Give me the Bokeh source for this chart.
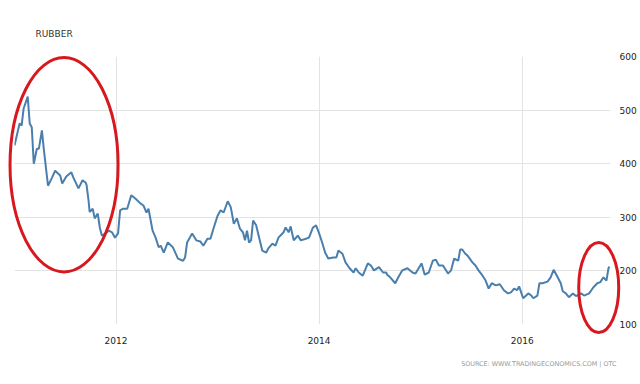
from bokeh.plotting import figure
from bokeh.layouts import column
from bokeh.models import FixedTicker, Label
from bokeh.embed import file_html
from bokeh.resources import INLINE

# decimal years
years = [2011.00, 2011.05, 2011.07, 2011.09, 2011.13, 2011.15, 2011.17, 2011.19, 2011.22, 2011.24,
         2011.27, 2011.29, 2011.33, 2011.37, 2011.40, 2011.45, 2011.47, 2011.51, 2011.56, 2011.58,
         2011.63, 2011.67, 2011.70, 2011.71, 2011.73, 2011.74, 2011.77, 2011.79, 2011.82, 2011.84,
         2011.86, 2011.88, 2011.93, 2011.96, 2011.99, 2012.02, 2012.04, 2012.07, 2012.11, 2012.15,
         2012.19, 2012.24, 2012.27, 2012.30, 2012.32, 2012.36, 2012.39, 2012.42, 2012.44, 2012.47,
         2012.51, 2012.56, 2012.61, 2012.66, 2012.68, 2012.70, 2012.75, 2012.79, 2012.83, 2012.86,
         2012.90, 2012.93, 2012.96, 2013.00, 2013.03, 2013.06, 2013.10, 2013.13, 2013.16, 2013.19,
         2013.22, 2013.25, 2013.27, 2013.29, 2013.31, 2013.33, 2013.35, 2013.38, 2013.44, 2013.48,
         2013.50, 2013.54, 2013.57, 2013.60, 2013.65, 2013.67, 2013.70, 2013.72, 2013.75, 2013.79,
         2013.82, 2013.87, 2013.90, 2013.94, 2013.97, 2013.99, 2014.00, 2014.03, 2014.06, 2014.09,
         2014.14, 2014.17, 2014.19, 2014.23, 2014.26, 2014.30, 2014.34, 2014.36, 2014.39, 2014.43,
         2014.48, 2014.51, 2014.54, 2014.59, 2014.63, 2014.66, 2014.67, 2014.70, 2014.75, 2014.78,
         2014.82, 2014.87, 2014.92, 2014.95, 2014.98, 2015.01, 2015.04, 2015.08, 2015.12, 2015.15,
         2015.18, 2015.22, 2015.27, 2015.30, 2015.33, 2015.37, 2015.39, 2015.41, 2015.44, 2015.46,
         2015.51, 2015.54, 2015.57, 2015.61, 2015.64, 2015.67, 2015.70, 2015.74, 2015.78, 2015.82,
         2015.86, 2015.89, 2015.92, 2015.95, 2015.97, 2015.99, 2016.01, 2016.06, 2016.09, 2016.11,
         2016.15, 2016.17, 2016.20, 2016.25, 2016.28, 2016.31, 2016.35, 2016.38, 2016.40, 2016.43,
         2016.46, 2016.50, 2016.53, 2016.58, 2016.61, 2016.66, 2016.70, 2016.74, 2016.77, 2016.80,
         2016.83, 2016.85, 2016.86]

prices = [434, 475, 471, 503, 525, 475, 468, 400, 428, 428,
          462, 425, 359, 374, 387, 378, 363, 376, 384, 374,
          354, 369, 365, 360, 330, 310, 316, 298, 307, 281,
          266, 268, 275, 272, 262, 270, 313, 316, 316, 341,
          335, 326, 322, 309, 316, 275, 262, 244, 247, 234,
          253, 244, 223, 219, 225, 253, 270, 257, 255, 247,
          260, 260, 279, 303, 313, 309, 330, 319, 288, 298,
          279, 272, 257, 275, 253, 257, 294, 285, 238, 234,
          242, 251, 247, 262, 272, 281, 272, 283, 257, 266,
          257, 260, 262, 281, 285, 275, 270, 253, 234, 223,
          225, 225, 238, 232, 216, 205, 197, 205, 197, 191,
          214, 210, 201, 207, 197, 197, 193, 188, 177, 188,
          201, 205, 197, 195, 205, 214, 193, 197, 219, 221,
          210, 210, 195, 201, 223, 219, 240, 240, 232, 229,
          216, 210, 201, 191, 182, 167, 177, 173, 175, 164,
          158, 160, 167, 164, 171, 160, 149, 158, 154, 149,
          154, 177, 177, 180, 188, 202, 188, 177, 162, 158,
          151, 158, 153, 158, 154, 158, 169, 177, 179, 188,
          182, 205, 208]

x_ticks = [2012, 2014, 2016]
y_ticks = [100, 200, 300, 400, 500, 600]
title_text = "RUBBER"
source_text = "SOURCE: WWW.TRADINGECONOMICS.COM | OTC"

# hand-drawn red ellipses: centre x, centre y, width (years), height (price)
ell_x = [2011.488, 2016.754]
ell_y = [398, 169]
ell_w = [1.064, 0.394]
ell_h = [400, 168]

W, H = 640, 384
BL, BR, BT, BB = 14, 30, 56, 60
X0, X1 = 2011.0, 2016.87
Y0, Y1 = 100, 600

p = figure(width=W, height=H, output_backend="svg", toolbar_location=None,
           x_range=(X0, X1), y_range=(Y0, Y1), y_axis_location="right",
           min_border_left=BL, min_border_right=BR, min_border_top=BT, min_border_bottom=BB,
           frame_align=False)
p.background_fill_color = "white"
p.border_fill_color = "white"
p.outline_line_color = None

p.line(years, prices, line_color="#4a7fad", line_width=2)

for ax in (p.xaxis[0], p.yaxis[0]):
    ax.axis_line_color = None
    ax.major_tick_line_color = None
    ax.minor_tick_line_color = None
    ax.major_label_text_font = "DejaVu Sans"
    ax.major_label_text_font_size = "9px"
    ax.major_label_text_color = "#222222"
p.xaxis[0].ticker = FixedTicker(ticks=x_ticks)
p.yaxis[0].ticker = FixedTicker(ticks=y_ticks)
p.xaxis[0].major_label_standoff = 6
p.yaxis[0].major_label_standoff = 3
p.xgrid.grid_line_color = "#e3e3e3"
p.ygrid.grid_line_color = "#e3e3e3"

# transparent overlay covering the whole canvas, same data mapping, no clipping at the frame
sx = (X1 - X0) / (W - BL - BR)
sy = (Y1 - Y0) / (H - BT - BB)
q = figure(width=W, height=H, output_backend="svg", toolbar_location=None,
           x_range=(X0 - BL * sx, X1 + BR * sx), y_range=(Y0 - BB * sy, Y1 + BT * sy),
           x_axis_location=None, y_axis_location=None, min_border=0, frame_align=False,
           styles={"position": "absolute", "top": "0px", "left": "0px"})
q.grid.visible = False
q.outline_line_color = None
q.background_fill_alpha = 0
q.border_fill_alpha = 0

q.ellipse(x=ell_x, y=ell_y, width=ell_w, height=ell_h, fill_alpha=0,
          line_color="#d7191f", line_width=3)

q.add_layout(Label(x=X0 + 21 * sx, y=Y1 + 23 * sy, text=title_text, text_font="DejaVu Sans",
                   text_font_size="9px", text_color="#333333", text_baseline="middle"))
q.add_layout(Label(x=X1 + 6 * sx, y=Y0 - 39 * sy, text=source_text, text_font="DejaVu Sans",
                   text_font_size="6.4px", text_color="#9a9a9a", text_baseline="middle",
                   text_align="right"))

layout = column(p, q, styles={"position": "relative"})
open("out.html", "w").write(file_html(layout, INLINE))
